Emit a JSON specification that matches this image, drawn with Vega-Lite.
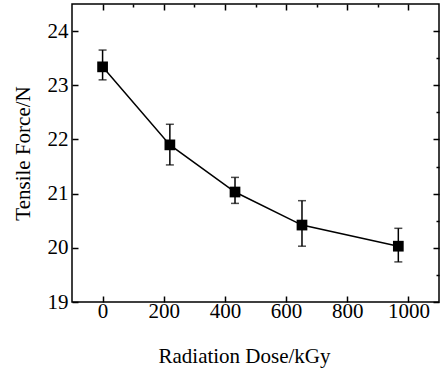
{
  "$schema": "https://vega.github.io/schema/vega-lite/v6.json",
  "width": 367,
  "height": 298,
  "autosize": "none",
  "padding": {"left": 72, "top": 4, "right": 2, "bottom": 72},
  "background": "white",
  "config": {
    "view": {"stroke": "black", "strokeWidth": 1.5},
    "axis": {
      "labelFont": "Liberation Serif",
      "titleFont": "Liberation Serif",
      "labelFontSize": 21,
      "titleFontSize": 21,
      "titleFontWeight": "normal",
      "labelColor": "black",
      "titleColor": "black",
      "tickColor": "black",
      "tickWidth": 1.5,
      "domain": false,
      "grid": false
    }
  },
  "data": {
    "values": [
      {"dose": 0, "force": 23.34, "hi": 23.65, "lo": 23.10},
      {"dose": 220, "force": 21.9, "hi": 22.28, "lo": 21.53},
      {"dose": 433, "force": 21.03, "hi": 21.30, "lo": 20.82},
      {"dose": 652, "force": 20.42, "hi": 20.87, "lo": 20.03},
      {"dose": 967, "force": 20.03, "hi": 20.36, "lo": 19.74}
    ]
  },
  "layer": [
    {
      "layer": [
        {
          "mark": {"type": "errorbar", "color": "black", "thickness": 1.5, "ticks": {"size": 8, "thickness": 1.5, "color": "black"}},
          "encoding": {
            "x": {"field": "dose", "type": "quantitative", "scale": {"domain": [-100, 1100], "nice": false, "zero": false},
              "axis": {"title": "Radiation Dose/kGy", "values": [0, 100, 200, 300, 400, 500, 600, 700, 800, 900, 1000],
                "labelExpr": "datum.value % 200 === 0 ? format(datum.value, 'd') : ''",
                "labelFont": "Liberation Serif", "labelFontSize": 21,
                "tickSize": {"condition": {"test": "datum.value % 200 === 0", "value": -6}, "value": -3},
                "labelPadding": 4, "titlePadding": 24, "titleX": 172,
                "encode": {"labels": {"update": {"font": {"value": "Liberation Serif"}}}}}},
            "y": {"field": "hi", "type": "quantitative", "scale": {"domain": [19, 24.5], "nice": false, "zero": false},
              "axis": {"title": "Tensile Force/N", "values": [19, 19.5, 20, 20.5, 21, 21.5, 22, 22.5, 23, 23.5, 24],
                "labelExpr": "datum.value % 1 === 0 ? format(datum.value, 'd') : ''",
                "labelFont": "Liberation Serif", "labelFontSize": 21,
                "tickSize": {"condition": {"test": "datum.value % 1 === 0", "value": -6}, "value": -3},
                "labelPadding": 10, "titlePadding": 14,
                "encode": {"labels": {"update": {"font": {"value": "Liberation Serif"}}}}}},
            "y2": {"field": "lo"}
          }
        },
        {
          "mark": {"type": "line", "color": "black", "strokeWidth": 1.5},
          "encoding": {
            "x": {"field": "dose", "type": "quantitative"},
            "y": {"field": "force", "type": "quantitative"}
          }
        },
        {
          "mark": {"type": "point", "shape": "square", "filled": true, "color": "black", "size": 115, "opacity": 1},
          "encoding": {
            "x": {"field": "dose", "type": "quantitative"},
            "y": {"field": "force", "type": "quantitative"}
          }
        }
      ]
    },
    {
      "mark": {"type": "point", "opacity": 0},
      "encoding": {
        "x": {"field": "dose", "type": "quantitative", "scale": {"domain": [-100, 1100], "nice": false, "zero": false},
          "axis": {"orient": "top", "title": null, "labels": false, "values": [0, 100, 200, 300, 400, 500, 600, 700, 800, 900, 1000],
            "tickSize": {"condition": {"test": "datum.value % 200 === 0", "value": -6}, "value": -3}}},
        "y": {"field": "force", "type": "quantitative", "scale": {"domain": [19, 24.5], "nice": false, "zero": false},
          "axis": {"orient": "right", "title": null, "labels": false, "values": [19, 19.5, 20, 20.5, 21, 21.5, 22, 22.5, 23, 23.5, 24],
            "tickSize": {"condition": {"test": "datum.value % 1 === 0", "value": -6}, "value": -3}}}
      }
    }
  ],
  "resolve": {"scale": {"x": "independent", "y": "independent"}}
}
